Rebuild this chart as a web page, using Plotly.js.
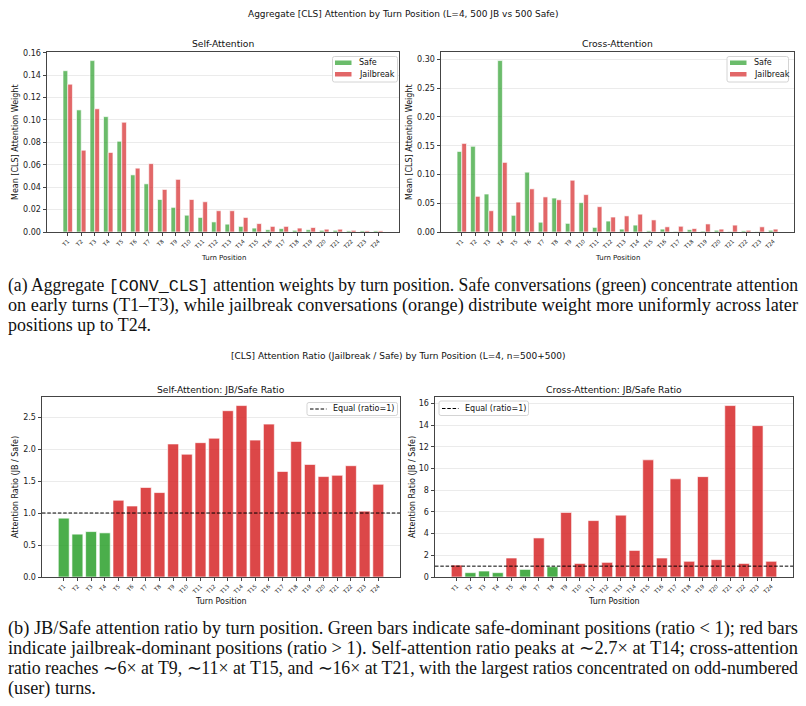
<!DOCTYPE html>
<html>
<head>
<meta charset="utf-8">
<script src="https://cdn.plot.ly/plotly-3.0.1.min.js"></script>
<style>
  html, body { margin: 0; padding: 0; background: #fff; }
  #page { position: relative; width: 806px; height: 706px; overflow: hidden; }
  #fig { position: absolute; left: 0; top: 0; width: 806px; height: 706px; }
  .cap { position: absolute; left: 8px; width: 790px; font-family: "Liberation Serif", "Times New Roman", serif;
         font-size: 18px; color: #111; }
  .cap .ln { height: 20px; line-height: 20px; white-space: nowrap; }
  .cap .ln span.t { display: inline-block; transform-origin: 0 50%; }
  .mono { font-family: "Liberation Mono", "DejaVu Sans Mono", monospace; font-size: 17px; }
</style>
</head>
<body>
<div id="page">
  <div id="fig"></div>
  <div class="cap" style="top:275px">
    <div class="ln"><span class="t">(a) Aggregate <span class="mono">[CONV_CLS]</span> attention weights by turn position. Safe conversations (green) concentrate attention</span></div>
    <div class="ln"><span class="t">on early turns (T1–T3), while jailbreak conversations (orange) distribute weight more uniformly across later</span></div>
    <div class="ln last"><span class="t">positions up to T24.</span></div>
  </div>
  <div class="cap" style="top:618px">
    <div class="ln"><span class="t">(b) JB/Safe attention ratio by turn position. Green bars indicate safe-dominant positions (ratio &lt; 1); red bars</span></div>
    <div class="ln"><span class="t">indicate jailbreak-dominant positions (ratio &gt; 1). Self-attention ratio peaks at ∼2.7× at T14; cross-attention</span></div>
    <div class="ln"><span class="t">ratio reaches ∼6× at T9, ∼11× at T15, and ∼16× at T21, with the largest ratios concentrated on odd-numbered</span></div>
    <div class="ln last"><span class="t">(user) turns.</span></div>
  </div>
</div>
<script>
// Turn positions
const turns = ['T1','T2','T3','T4','T5','T6','T7','T8','T9','T10','T11','T12',
               'T13','T14','T15','T16','T17','T18','T19','T20','T21','T22','T23','T24'];

// Mean [CLS] attention weight per turn — self-attention
const selfSafe = [0.144,0.109,0.153,0.103,0.081,0.051,0.043,0.029,0.022,0.015,0.013,0.009,
                  0.007,0.005,0.0035,0.002,0.003,0.0015,0.002,0.0015,0.0015,0.001,0.001,0.001];
const selfJB   = [0.132,0.073,0.110,0.071,0.098,0.057,0.061,0.038,0.047,0.029,0.027,0.019,
                  0.019,0.013,0.0075,0.005,0.005,0.0035,0.004,0.0025,0.0025,0.0015,0.001,0.001];

// Mean [CLS] attention weight per turn — cross-attention
const crossSafe = [0.140,0.149,0.066,0.298,0.029,0.104,0.017,0.059,0.015,0.051,0.008,0.019,
                   0.005,0.012,0.002,0.005,0.001,0.004,0.0015,0.003,0.0008,0.002,0.0006,0.003];
const crossJB   = [0.154,0.062,0.037,0.121,0.052,0.075,0.061,0.056,0.090,0.065,0.044,0.026,
                   0.028,0.031,0.021,0.009,0.010,0.006,0.014,0.005,0.012,0.003,0.009,0.005];

// Jailbreak / Safe ratio per turn
const selfRatio  = [0.92,0.67,0.71,0.69,1.20,1.11,1.40,1.32,2.08,1.92,2.10,2.17,
                    2.60,2.68,2.14,2.39,1.65,2.12,1.76,1.57,1.59,1.74,1.03,1.45];
const crossRatio = [1.10,0.40,0.55,0.40,1.75,0.70,3.60,0.95,5.95,1.25,5.20,1.35,
                    5.70,2.45,10.80,1.75,9.05,1.45,9.25,1.60,15.80,1.25,13.95,1.45];

const equalRatio = 1;
const seriesNames = ['Safe', 'Jailbreak'];
const equalLabel = 'Equal (ratio=1)';

// Style constants
const GREEN = 'rgba(44,160,44,0.7)';
const RED = 'rgba(214,39,40,0.7)';
const GREEN_R = 'rgba(44,160,44,0.85)';
const RED_R = 'rgba(214,39,40,0.85)';
const EDGE = { color: 'rgba(255,255,255,0.8)', width: 0.8 };
const FONT = 'DejaVu Sans, sans-serif';
const DASH = '3.5px,1.8px';

function pairBars(safe, jb, xa, ya) {
  return [
    { type: 'bar', x: turns, y: safe, name: seriesNames[0], xaxis: xa, yaxis: ya, showlegend: false,
      width: 0.35, offset: -0.35, marker: { color: GREEN, line: EDGE } },
    { type: 'bar', x: turns, y: jb, name: seriesNames[1], xaxis: xa, yaxis: ya, showlegend: false,
      width: 0.35, offset: 0, marker: { color: RED, line: EDGE } }
  ];
}

function ratioBars(vals, xa, ya) {
  return { type: 'bar', x: turns, y: vals, xaxis: xa, yaxis: ya, width: 0.8, showlegend: false,
           marker: { color: vals.map(v => v < equalRatio ? GREEN_R : RED_R), line: EDGE } };
}

const data = [
  ...pairBars(selfSafe, selfJB, 'x', 'y'),
  ...pairBars(crossSafe, crossJB, 'x2', 'y2'),
  ratioBars(selfRatio, 'x3', 'y3'),
  ratioBars(crossRatio, 'x4', 'y4')
];

const W = 806, H = 706;
const px = v => v / W;
const py = v => 1 - v / H;

function xAxis(d0, d1, anchor, rng) {
  return {
    domain: [px(d0), px(d1)], anchor: anchor, type: 'category', range: rng,
    tickangle: -45, tickfont: { size: 5.5, family: FONT, color: '#222' },
    ticks: 'outside', ticklen: 3, tickcolor: '#444', showgrid: false, zeroline: false,
    showline: true, linecolor: '#444', linewidth: 1, mirror: true, fixedrange: true
  };
}
function yAxis(top, bot, anchor, rng, dtick, fmt) {
  return {
    domain: [py(bot), py(top)], anchor: anchor, range: rng, dtick: dtick, tickformat: fmt,
    tickfont: { size: 8, family: FONT, color: '#222' }, ticks: 'outside', ticklen: 3.5, tickcolor: '#444',
    showgrid: true, gridcolor: '#ebebeb', gridwidth: 1, zeroline: false,
    showline: true, linecolor: '#444', linewidth: 1, mirror: true, fixedrange: true
  };
}

const topY0 = 52, topY1 = 232, botY0 = 397, botY1 = 577;

function ann(text, x, y, size, extra) {
  return Object.assign({ text: text, x: px(x), y: py(y), xref: 'paper', yref: 'paper', showarrow: false,
    xanchor: 'center', yanchor: 'middle', font: { size: size, family: FONT, color: '#111' } }, extra || {});
}

// Rounded legend frame in pixel units, converted to paper coordinates
function frame(x0, y0, x1, y1) {
  const r = 2;
  const P = (x, y) => px(x).toFixed(5) + ',' + py(y).toFixed(5);
  const path = 'M' + P(x0 + r, y0) + ' L' + P(x1 - r, y0) + ' Q' + P(x1, y0) + ' ' + P(x1, y0 + r) +
    ' L' + P(x1, y1 - r) + ' Q' + P(x1, y1) + ' ' + P(x1 - r, y1) + ' L' + P(x0 + r, y1) +
    ' Q' + P(x0, y1) + ' ' + P(x0, y1 - r) + ' L' + P(x0, y0 + r) + ' Q' + P(x0, y0) + ' ' + P(x0 + r, y0) + ' Z';
  return { type: 'path', xref: 'paper', yref: 'paper', path: path,
           fillcolor: 'rgba(255,255,255,0.85)', line: { color: '#d4d4d4', width: 1 } };
}
function patch(x0, yc, color) {
  return { type: 'rect', xref: 'paper', yref: 'paper', x0: px(x0), x1: px(x0 + 16.5),
           y0: py(yc + 2), y1: py(yc - 2.5), fillcolor: color, line: { width: 0 } };
}
function dashSample(x0, yc) {
  return { type: 'line', xref: 'paper', yref: 'paper', x0: px(x0), x1: px(x0 + 16.5), y0: py(yc), y1: py(yc),
           line: { color: '#000', width: 1, dash: DASH } };
}
function legText(text, x, y) {
  return ann(text, x, y, 8, { xanchor: 'left' });
}

// Bar-series legends (top row) and reference-line legends (bottom row)
const legendShapes = [
  frame(332.5, 56.5, 397.5, 82),
  patch(335, 63, GREEN), patch(335, 74.5, RED),
  frame(727, 56.5, 788.5, 82),
  patch(730, 63, GREEN), patch(730, 74.5, RED),
  frame(307, 402.5, 397.5, 415.5),
  dashSample(310, 409),
  frame(439, 401, 528.5, 415.5),
  dashSample(442, 408.5)
];
const legendTexts = [
  legText(seriesNames[0], 357, 63), legText(seriesNames[1], 357, 74.5),
  legText(seriesNames[0], 752, 63), legText(seriesNames[1], 752, 74.5),
  legText(equalLabel, 331, 409),
  legText(equalLabel, 463.5, 408.5)
];

const layout = {
  width: W, height: H, margin: { l: 0, r: 0, t: 0, b: 0 },
  paper_bgcolor: '#fff', plot_bgcolor: '#fff', barmode: 'overlay', showlegend: false,
  font: { family: FONT },
  xaxis:  xAxis(47, 399, 'y',  [-1.535, 24.535]),
  yaxis:  yAxis(topY0, topY1, 'x',  [0, 0.1607], 0.02, '.2f'),
  xaxis2: xAxis(441, 794, 'y2', [-1.535, 24.535]),
  yaxis2: yAxis(topY0, topY1, 'x2', [0, 0.3129], 0.05, '.2f'),
  xaxis3: xAxis(42, 400, 'y3', [-1.59, 24.59]),
  yaxis3: yAxis(botY0, botY1, 'x3', [0, 2.814], 0.5, '.1f'),
  xaxis4: xAxis(435, 793, 'y4', [-1.59, 24.59]),
  yaxis4: yAxis(botY0, botY1, 'x4', [0, 16.59], 2, 'd'),
  shapes: [
    { type: 'line', xref: 'x3 domain', x0: 0, x1: 1, yref: 'y3', y0: equalRatio, y1: equalRatio,
      line: { color: '#000', width: 1, dash: DASH } },
    { type: 'line', xref: 'x4 domain', x0: 0, x1: 1, yref: 'y4', y0: equalRatio, y1: equalRatio,
      line: { color: '#000', width: 1, dash: DASH } },
    ...legendShapes
  ],
  annotations: [
    ann('Aggregate [CLS] Attention by Turn Position (L=4, 500 JB vs 500 Safe)', 403, 14, 9),
    ann('Self-Attention', 223, 44, 9.2),
    ann('Cross-Attention', 617, 44, 9.2),
    ann('Turn Position', 223, 258, 7),
    ann('Turn Position', 617, 258, 7),
    ann('Mean [CLS] Attention Weight', 15, 142, 8, { textangle: -90 }),
    ann('Mean [CLS] Attention Weight', 409, 142, 8, { textangle: -90 }),
    ann('[CLS] Attention Ratio (Jailbreak / Safe) by Turn Position (L=4, n=500+500)', 398, 356, 9),
    ann('Self-Attention: JB/Safe Ratio', 221, 389, 9.2),
    ann('Cross-Attention: JB/Safe Ratio', 614, 389, 9.2),
    ann('Turn Position', 221, 601, 8),
    ann('Turn Position', 614, 601, 8),
    ann('Attention Ratio (JB / Safe)', 15, 487, 8, { textangle: -90 }),
    ann('Attention Ratio (JB / Safe)', 412, 487, 8, { textangle: -90 }),
    ...legendTexts
  ]
};

Plotly.newPlot('fig', data, layout, { staticPlot: true, displayModeBar: false });

// Fit each full caption line to the column width by condensing it horizontally;
// the closing line of a paragraph reuses the average condensation of the others.
document.querySelectorAll('.cap').forEach(cap => {
  const lines = Array.from(cap.querySelectorAll('.ln'));
  const full = 790;
  const scales = [];
  lines.forEach(ln => {
    if (ln.classList.contains('last')) return;
    const t = ln.querySelector('.t');
    const s = full / t.getBoundingClientRect().width;
    scales.push(s);
    t.style.transform = 'scaleX(' + s + ')';
  });
  const avg = scales.reduce((a, b) => a + b, 0) / scales.length;
  lines.filter(ln => ln.classList.contains('last')).forEach(ln => {
    ln.querySelector('.t').style.transform = 'scaleX(' + avg + ')';
  });
});
</script>
</body>
</html>
